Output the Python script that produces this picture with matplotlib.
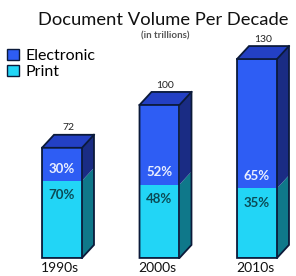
import matplotlib.pyplot as plt
from matplotlib.patches import Polygon, Patch

plt.rcParams['font.family'] = ['Lato', 'DejaVu Sans']

decades = ['1990s', '2000s', '2010s']
totals = [72, 100, 130]
print_pct = [70, 48, 35]
elec_pct = [30, 52, 65]

print_vals = [t * p / 100 for t, p in zip(totals, print_pct)]
elec_vals = [t * p / 100 for t, p in zip(totals, elec_pct)]

c_elec = '#2e5df4'
c_elec_top = '#2340c4'
c_elec_side = '#1a2c84'
c_print = '#22d5f6'
c_print_side = '#0f788a'
c_edge = '#0b1a3a'

w = 0.41
dx, dy = 0.123, 8.5

fig = plt.figure(figsize=(2.96, 2.76), dpi=100)
ax = fig.add_axes([0, 0, 1, 1])
ax.set_xlim(-0.636, 2.4)
ax.set_ylim(-11.8, 168.6)
ax.axis('off')

xs = range(len(decades))
ax.bar(xs, print_vals, w, color=c_print, zorder=2)
ax.bar(xs, elec_vals, w, bottom=print_vals, color=c_elec, zorder=2)

for i in xs:
    l, r = i - w / 2, i + w / 2
    p, t = print_vals[i], totals[i]
    # side faces
    ax.add_patch(Polygon([(r, 0), (r + dx, dy), (r + dx, p + dy), (r, p)],
                         closed=True, fc=c_print_side, ec='none', zorder=2))
    ax.add_patch(Polygon([(r, p), (r + dx, p + dy), (r + dx, t + dy), (r, t)],
                         closed=True, fc=c_elec_side, ec='none', zorder=2))
    # top face
    ax.add_patch(Polygon([(l, t), (l + dx, t + dy), (r + dx, t + dy), (r, t)],
                         closed=True, fc=c_elec_top, ec='none', zorder=2))
    # outline
    ax.add_patch(Polygon([(l, 0), (r, 0), (r + dx, dy), (r + dx, t + dy),
                          (l + dx, t + dy), (l, t)],
                         closed=True, fill=False, ec=c_edge, lw=1.3, zorder=3))
    ax.plot([l, r, r + dx], [t, t, t + dy], color=c_edge, lw=1.3, zorder=3)
    ax.plot([r, r], [0, t], color=c_edge, lw=1.3, zorder=3)

    ax.text(i + dx / 2, t + dy + 4.5, str(t), ha='center', va='center',
            fontsize=7.5, color='#222222')
    ax.text(i, p + 8, f'{elec_pct[i]}%', ha='center', va='center',
            fontsize=9.5, color='#e8eeff', fontweight='bold', zorder=4)
    ax.text(i, p - 9.5, f'{print_pct[i]}%', ha='center', va='center',
            fontsize=9.5, color='#0b4a55', fontweight='bold', zorder=4)
    ax.text(i - 0.02, -6.5, decades[i], ha='center', va='center',
            fontsize=10, color='#111111')

fig.text(0.55, 0.928, 'Document Volume Per Decade', ha='center', va='center',
         fontsize=13.2, color='#111111')
fig.text(0.557, 0.87, '(in trillions)', ha='center', va='center',
         fontsize=7, color='#555555', fontweight='bold')

handles = [Patch(fc=c_elec, ec=c_edge, lw=1.0), Patch(fc=c_print, ec=c_edge, lw=1.0)]
fig.legend(handles, ['Electronic', 'Print'], loc='upper left',
           bbox_to_anchor=(-0.01, 0.858), frameon=False, fontsize=11.5,
           handlelength=0.75, handleheight=0.75, handletextpad=0.45,
           labelspacing=0.1, borderaxespad=0.2)

fig.savefig('out.png', dpi=100)
